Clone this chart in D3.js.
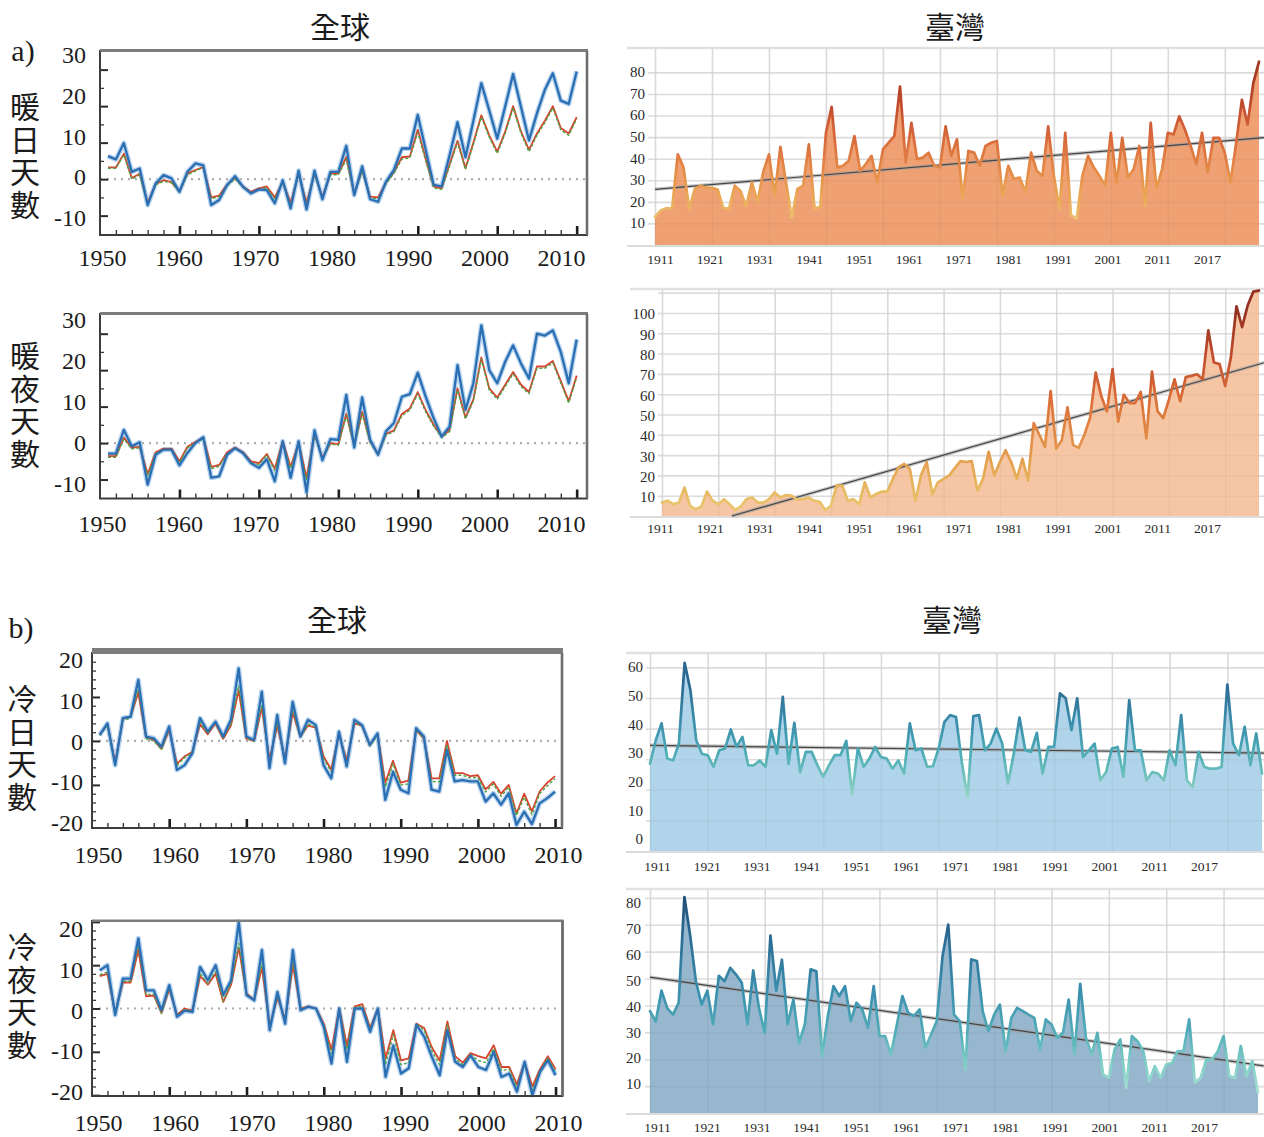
<!DOCTYPE html>
<html>
<head>
<meta charset="utf-8">
<title>暖日、暖夜、冷日、冷夜天數：全球與臺灣</title>
<script src="https://cdn.jsdelivr.net/npm/d3@7/dist/d3.min.js"></script>
<style>
  html, body { margin: 0; padding: 0; background: #fff; }
  svg { display: block; }
</style>
</head>
<body>
<svg id="chart" width="1264" height="1137"></svg>
<script>
// ---------------- categories & tick labels ----------------
const globalYears = d3.range(1951, 2011);          // 1951–2010
const taiwanYears = d3.range(1911, 2018);          // 1911–2017
const globalTickLabels = [1950, 1960, 1970, 1980, 1990, 2000, 2010];
const taiwanTickLabels = ["1911", "1921", "1931", "1941", "1951", "1961", "1971", "1981", "1991", "2001", "2011", "2017"];
const taiwanGridYears = [1911, 1921, 1931, 1941, 1951, 1961, 1971, 1981, 1991, 2001, 2011];

// ---------------- global anomalies (days), 1951–2010 ----------------
const warmDaysBlue = [6.3,5.4,9.9,2,2.9,-7.1,-1.2,1.1,0.2,-3.5, 2,4.3,3.8,-7.1,-5.7,-1.6,0.8,-2.1,-3.9,-2.8,
  -3,-6.6,-0.3,-8,2.3,-8.3,2.3,-5.5,2,2, 9.1,-4.4,3.5,-5.5,-6.2,-0.7,2.5,8.4,8.4,17.6,
  8,-1.6,-2,6.5,15.6,6,16,26.3,18.8,11.1, 19.9,28.8,19.7,10.6,18,24.5,29,21.5,20.6,29.5];
const warmDaysRed = [3.2,3.2,7,0.3,1.5,-6.5,-1.3,-0.3,-0.8,-3.3, 1.5,2.5,3.3,-5,-4.5,-1.5,0.3,-2,-3.5,-2.5,
  -2,-5,-0.8,-6.5,1.5,-6.5,1.5,-5,1.5,1.5, 6,-4,2.5,-4.8,-5,-1,2,6,6.2,13.5,
  5.5,-2,-2.5,4,10.5,3,10,17.5,12,7.5, 13,20,13,8,12.5,16,20,14,12.5,17];
const warmDaysGreen = [3,3,6.6,0,1.2,-7,-1.6,-0.6,-1,-3.6, 1.2,2.2,3.2,-5.4,-4.8,-1.8,0,-2.2,-3.8,-2.8,
  -2.4,-5.4,-1,-7,1.2,-7,1.2,-5.4,1.2,1.2, 5.4,-4.4,2.2,-5.2,-5.4,-1.3,1.6,5.5,5.8,12.8,
  5,-2.4,-2.8,3.6,10,2.6,9.5,17,11.5,7, 12.5,19.5,12.5,7.5,12,15.5,19.5,13.5,12,16.5];

const warmNightsBlue = [-2.9,-2.9,3.6,-0.9,0.2,-11.4,-3.2,-1.8,-1.8,-6.1, -2.7,0,1.6,-9.5,-9.1,-3.2,-1.4,-2.7,-5.5,-6.8,
  -4.4,-10.5,0.5,-9.5,0.5,-13.5,3.5,-4.7,1.1,0.9, 13.2,-1.2,12.5,0.9,-3.2,3.2,5.5,12.7,13.4,19.3,
  12.7,6.8,1.8,4.5,21.4,9.1,16.4,32.3,20,16.4, 22.3,26.8,21.8,17.7,30,29.5,30.9,25,16.4,28.4];
const warmNightsRed = [-3.6,-3.6,1.5,-1.3,-1,-8.5,-2.5,-1.5,-1.5,-5, -1,0.3,1.5,-6.5,-6,-2.5,-1.2,-2.5,-5,-5.5,
  -3,-7,0.5,-6.5,0,-9.5,2.5,-4,0,-0.3, 8,-0.5,8.5,0.5,-3,2.5,3.5,8,9.5,14,
  9,5,1.8,3.5,15,7,12,23.5,15,12.5, 16,19.5,16,14,21,21,22.5,17,11.5,18.5];
const warmNightsGreen = [-3.9,-3.9,1.1,-1.6,-1.3,-9,-2.8,-1.8,-1.8,-5.4, -1.3,0,1.2,-7,-6.4,-2.8,-1.5,-2.8,-5.4,-5.9,
  -3.3,-7.5,0.2,-7,-0.3,-10,2.2,-4.4,-0.3,-0.6, 7.5,-0.8,8,0.2,-3.3,2.2,3.1,7.5,9,13.5,
  8.5,4.6,1.5,3.1,14.5,6.6,11.5,23,14.5,12, 15.5,19,15.5,13.5,20.5,20.5,22,16.5,11,18];

const coldDaysBlue = [1.4,4,-5.5,5.2,5.5,13.9,1,0.6,-1.3,3.3, -6.6,-5.5,-2.8,5.2,2.1,4.4,1,4.8,16.5,1,
  0.2,11.2,-6.2,5.9,-5.1,8.9,1,4.8,3.6,-5.5, -8.5,2.1,-5.8,4.8,3.6,-0.9,1.7,-13.4,-7,-11.1,
  -11.9,2.9,1,-11.1,-11.5,-2,-9.2,-8.9,-9.2,-9.2, -13.8,-11.9,-14.5,-11.9,-19.1,-16.1,-18.9,-14.2,-13,-11.5];
const coldDaysRed = [1.4,3.8,-5,5,5.5,11,0.8,0.3,-1.8,2.5, -5.2,-3.5,-2.5,3.8,1.5,4,0.5,3.5,11.5,0.5,
  0,7.5,-4.2,3.5,-4,6.5,1,3.5,3,-3.5, -6.5,1.5,-4.5,4,3.5,-1,1.5,-9.5,-4.5,-9.5,
  -9,2.5,0.5,-8.5,-8.5,0,-7.3,-7.3,-8,-7.8, -11,-9.3,-12,-10,-16.5,-12,-16,-11.5,-9.5,-8];
const coldDaysGreen = [1.2,3.5,-5.3,4.7,5.2,11.8,0.5,0,-2,2.8, -5.6,-3.8,-2.7,4.2,1.7,4.2,0.7,3.8,12.5,0.6,
  0,8.2,-4.8,4,-4.5,7.2,0.8,3.8,3.2,-4, -7,1.7,-5,4.3,3.4,-1.2,1.3,-10.5,-5.2,-10,
  -9.8,2.6,0.6,-9.2,-9.3,-0.8,-7.8,-7.8,-8.4,-8.3, -11.6,-9.8,-12.6,-10.5,-17,-12.8,-16.8,-12,-10.2,-8.6];

const coldNightsBlue = [8.8,10,-1.5,6.9,6.9,16.2,4.2,4.2,-0.4,5.4, -1.9,-0.5,-0.8,9.6,6.5,10,3.1,6.5,20,3.1,
  1.9,13.5,-5,3.8,-3.5,13.5,-0.4,0.4,0,-4.2, -12.7,0,-12.3,0,0,-5.4,0,-15.8,-8.5,-15,
  -13.8,-3.8,-6.5,-11.2,-15.4,-5,-12.3,-13.5,-10.8,-13.5, -14.2,-10,-15.8,-15,-19.2,-12.3,-20,-14.6,-11.9,-15.4];
const coldNightsRed = [7.5,8,-1,6,6,13.5,2.8,3,-1,4.5, -1.5,0,-0.5,7.5,5.5,8,1.5,5.5,14,3.5,
  2,9.5,-4,2.5,-2.5,10,0,0.5,0,-3.5, -9.5,0,-8.5,0.5,1,-4.5,0,-11.5,-5,-12,
  -11.5,-3.5,-4.5,-9,-12,-3,-11,-12.5,-10.3,-11, -11.5,-8.5,-13.5,-13.5,-17.5,-12.5,-18,-14,-11,-14];
const coldNightsGreen = [7.8,8.4,-1.3,6.3,6.3,14.5,3.2,3.3,-1.2,4.8, -1.7,-0.2,-0.7,8,5.8,8.5,1.8,5.8,15,3.3,
  1.8,10.5,-4.4,2.8,-2.9,11,-0.2,0.4,-0.2,-3.8, -10.5,-0.2,-9.5,0.2,0.6,-4.8,-0.2,-12.8,-6,-13,
  -12.5,-3.6,-5,-9.8,-13,-3.8,-11.6,-13,-10.6,-12, -12.5,-9.2,-14.3,-14,-18.2,-12.8,-18.8,-14.3,-11.4,-14.6];

// ---------------- Taiwan day counts, 1911–2017 ----------------
const twWarmDays = [13,16,17,17,42,36,17,26,27.5,26.5, 26.5,25.7,17,17,27.5,25,18,29,20,34,
  42,23,45.5,29,12.7,26,27.5,46.6,17,17.6, 52,64,36,36.7,39,50.5,34.4,37.5,41.3,29,
  44.3,47.4,50.5,73.4,38.2,56.6,39.8,40.5,42.8,36.7, 36,55,41.3,49,21.4,43.6,42.8,36.7,45.9,47.4,
  48.2,23,36.7,30.6,31.3,24.5,42.8,34.4,32,55, 32,16.8,52,13.8,12.2,32,41.3,36,32,27.5,
  52,28.3,49.7,31.3,35.2,45.9,18.3,56.6,26,35.2, 52,51.2,59.6,53.5,45.9,37.5,52,33.6,49.7,49.7,
  42.8,29,47.4,67.3,55.8,75,85];
const twWarmNights = [6.6,7.5,5.8,6.6,14,5,3.3,4.7,12,7.5, 5.8,8.3,5.8,3,4.7,8.3,9.1,6.6,6.6,8.3,
  11.6,9.1,10.3,10,8,8.3,9.1,7.5,7,3, 5,15,15,7.5,8.3,5.8,16.6,9.1,10.8,12,
  12,18.3,24,25.7,23.3,7.5,20,26.6,10.8,16.6, 18.3,20,23.6,27,26.6,27,12.5,18.3,31.6,20,
  26.6,32.4,26.6,18.3,28.2,17.4,45.7,40,34,61.5, 33.2,37.4,53.5,34.9,33.6,40,48.2,70.6,59,51.5,
  72.3,46.5,59.8,55.6,55.6,61.1,38.2,71.1,51.5,48.2, 57.3,67.3,56.5,68.4,69,69.8,67.3,91.4,75.6,74.8,
  64,78,103.3,93,103.8,110.5,111];
const twColdDays = [28.5,36.2,41.7,30.2,29.6,35.1,61.5,52.5,36.2,31.8, 31.3,27.5,32.9,33.5,39.7,34,37.3,28,28,29.6,
  27.5,39.5,31.8,50.4,28.5,41.9,25.8,32.4,32.4,28, 24.2,28,31.3,31.3,36,18.5,33.5,27.5,30.2,34,
  30.7,30.2,26.9,29.6,25.3,41.7,32.9,33.5,27.5,27.7, 33.5,42.2,44.4,43.8,29.1,17.6,44.1,44.4,32.9,35.1,
  40,35.1,22,31.8,43.6,32.9,32.4,38.6,25.3,34, 34,51.5,49.9,39.5,49.9,30.7,32.9,35.1,23.1,25.8,
  33.5,34,24.2,49.3,32.9,32.9,23.1,25.8,25.3,23.1, 32.9,28,44.4,23.1,20.9,32.4,27.5,26.9,26.9,27.5,
  54.4,35.1,31.3,40.6,28,38.4,25.3];
const twColdNights = [37.9,34,45.5,39,36.6,41,80.3,66,49,40.3, 45.5,33,51,49,54,51.5,48.4,33,53,39,
  29.8,66,45.5,57,33,42.2,26.1,33,53.4,52.7, 21.1,36,47.2,43.5,47.2,34.2,41,38.5,31.7,47.2,
  28.6,28.6,21.8,32.3,43.5,37.3,36,38.5,24.2,29.2, 34.2,58.3,70.1,36.6,34.2,16.2,57.1,56.5,37.9,30.4,
  36.6,40.3,23,35.4,39.1,37.9,36.6,35.4,23.6,34.8, 32.9,28,29.8,42.2,21.8,48,28,21.8,29.8,14.3,
  13.1,23.6,27.4,9.4,28.6,26.7,23,11.9,17.4,13.1, 18,18.6,23,23,34.8,11.3,13.1,19.9,19.9,23,
  28.6,13.7,13.1,24.9,13.7,19.3,7.5];

// linear trend end points [year, days]
const twWarmDaysTrend = [[1911, 25.8], [2017.9, 49.8]];
const twWarmNightsTrend = [[1923.4, 0], [2017.9, 75.5]];
const twColdDaysTrend = [[1911, 34.5], [2017.35, 32]];
const twColdNightsTrend = [[1911, 50.5], [2018, 17.5]];

// ---------------- drawing ----------------
const SERIF = '"Liberation Serif", "Times New Roman", serif';
const CJK = '"Noto Sans CJK TC", "Noto Sans CJK SC", sans-serif';
const plainNumber = d => String(d);   // keeps an ASCII hyphen for negatives
const svg = d3.select("#chart");
const defs = svg.append("defs");

function styleAxis(sel, color, width) {
  sel.select(".domain").remove();
  sel.selectAll("line").attr("stroke", color).attr("stroke-width", width);
  return sel;
}

function drawGlobalPanel(p) {
  const g = svg.append("g");
  const f = p.frame;
  const x = d3.scaleLinear().domain(p.xDomain).range([f.x0, f.x1]);
  const y = d3.scaleLinear().domain(p.yDomain).range([f.y1, f.y0]);
  const xLab = d3.scaleLinear().domain([1950, 2010]).range(p.xLabelRange);
  const yLab = d3.scaleLinear().domain(p.yLabelDomain).range(p.yLabelRange);

  // dotted zero reference
  g.append("line")
    .attr("x1", f.x0).attr("x2", f.x1).attr("y1", y(0)).attr("y2", y(0))
    .attr("stroke", "#adadad").attr("stroke-width", 2.2).attr("stroke-dasharray", "2,5");

  const line = d3.line().x((d, i) => x(globalYears[i])).y(d => y(d));
  g.append("path").datum(p.blue).attr("d", line).attr("fill", "none")
    .attr("stroke", "#b9d4ee").attr("stroke-width", 5).attr("stroke-linejoin", "round");
  g.append("path").datum(p.red).attr("d", line).attr("fill", "none")
    .attr("stroke", "#d8432e").attr("stroke-width", 1.8).attr("stroke-linejoin", "round");
  g.append("path").datum(p.green).attr("d", line).attr("fill", "none")
    .attr("stroke", "#4fa34a").attr("stroke-width", 1.4).attr("stroke-dasharray", "3,2")
    .attr("stroke-linejoin", "round");
  g.append("path").datum(p.blue).attr("d", line).attr("fill", "none")
    .attr("stroke", "#2a6fb3").attr("stroke-width", 2.3).attr("stroke-linejoin", "round");

  // inward ticks
  styleAxis(g.append("g").attr("transform", `translate(${f.x0},0)`)
    .call(d3.axisLeft(y).tickValues(p.yMajor).tickSize(-8).tickFormat("")), "#2a2a2a", 2);
  styleAxis(g.append("g").attr("transform", `translate(${f.x0},0)`)
    .call(d3.axisLeft(y).tickValues(p.yMinor).tickSize(-4).tickFormat("")), "#3a3a3a", 1.3);
  styleAxis(g.append("g").attr("transform", `translate(0,${f.y1})`)
    .call(d3.axisBottom(x).tickValues([1960, 1970, 1980, 1990, 2000, 2010]).tickSize(-9).tickFormat("")), "#1e1e1e", 2.6);
  styleAxis(g.append("g").attr("transform", `translate(0,${f.y1})`)
    .call(d3.axisBottom(x).tickValues(d3.range(1952, 2011, 2).filter(v => v % 10 !== 0)).tickSize(-5).tickFormat("")), "#3a3a3a", 1.4);

  // frame
  g.append("rect").attr("x", f.x0).attr("y", f.y0)
    .attr("width", f.x1 - f.x0).attr("height", f.y1 - f.y0)
    .attr("fill", "none").attr("stroke", "#3d3d3d").attr("stroke-width", 2);
  g.append("line").attr("x1", f.x0).attr("x2", f.x1 + 1)
    .attr("y1", f.y0 - p.topWidth / 2 + 1).attr("y2", f.y0 - p.topWidth / 2 + 1)
    .attr("stroke", "#7c7c7c").attr("stroke-width", p.topWidth);
  g.append("line").attr("x1", f.x1).attr("x2", f.x1)
    .attr("y1", f.y0).attr("y2", f.y1)
    .attr("stroke", "#6e6e6e").attr("stroke-width", 2.6);

  // tick labels
  const yl = g.append("g").attr("transform", `translate(${p.yLabelRight},0)`)
    .call(d3.axisLeft(yLab).tickValues(p.yLabelValues).tickFormat(plainNumber).tickSize(0).tickPadding(0));
  yl.select(".domain").remove();
  yl.attr("font-family", SERIF).attr("font-size", 24);
  yl.selectAll("text").attr("fill", "#1b1b1b");

  const xl = g.append("g").attr("transform", `translate(0,${p.xLabelY - 9})`)
    .call(d3.axisBottom(xLab).tickValues(globalTickLabels).tickFormat(plainNumber).tickSize(0).tickPadding(0));
  xl.select(".domain").remove();
  xl.attr("font-family", SERIF).attr("font-size", 24);
  xl.selectAll("text").attr("fill", "#1b1b1b");

  // vertical axis title, written top to bottom
  g.append("text")
    .attr("x", p.titleX).attr("y", p.titleTop)
    .style("writing-mode", "vertical-rl")
    .attr("letter-spacing", 2.5)
    .attr("font-family", CJK).attr("font-size", 30).attr("fill", "#1b1b1b")
    .text(p.title);
}

function drawTaiwanPanel(p) {
  const g = svg.append("g");
  const right = 1264;
  const x = d3.scaleLinear().domain([1911, 2017]).range([p.x0, p.x1]);
  const y = d3.scaleLinear().domain([0, p.yTop]).range([p.yBottom, p.yTopPx]);
  const xLab = d3.scalePoint().domain(taiwanTickLabels).range(p.xLabelRange);
  const yLab = d3.scaleLinear().domain(p.yLabelDomain).range(p.yLabelRange);

  // grid
  styleAxis(g.append("g").attr("transform", `translate(${p.gridLeft},0)`)
    .call(d3.axisLeft(y).tickValues(p.grid).tickSize(-(right - p.gridLeft)).tickFormat("")), "#e4e4e4", 1.6);
  styleAxis(g.append("g").attr("transform", `translate(0,${p.yBottom})`)
    .call(d3.axisBottom(x).tickValues(taiwanGridYears).tickSize(-(p.yBottom - p.yTopPx)).tickFormat("")), "#e2e2e2", 1.6);
  g.append("line").attr("x1", p.borderLeft).attr("x2", right)
    .attr("y1", p.yTopPx).attr("y2", p.yTopPx)
    .attr("stroke", "#e1e1e1").attr("stroke-width", 2.4);

  // filled area
  const area = d3.area().x((d, i) => x(taiwanYears[i])).y0(y(0)).y1(d => y(d));
  g.append("path").datum(p.values).attr("d", area).attr("fill", p.fill);

  // faint grid showing through the fill
  styleAxis(g.append("g").attr("transform", `translate(0,${p.yBottom})`)
    .call(d3.axisBottom(x).tickValues(taiwanGridYears).tickSize(-(p.yBottom - p.yTopPx)).tickFormat("")), "rgba(0,0,0,0.035)", 1.6);
  styleAxis(g.append("g").attr("transform", `translate(${p.gridLeft},0)`)
    .call(d3.axisLeft(y).tickValues(p.grid).tickSize(-(right - p.gridLeft)).tickFormat("")), "rgba(0,0,0,0.03)", 1.6);

  // baseline
  g.append("line").attr("x1", p.borderLeft).attr("x2", right)
    .attr("y1", p.yBottom + 1).attr("y2", p.yBottom + 1)
    .attr("stroke", "#dcdcdc").attr("stroke-width", 2);

  // trend line
  const trend = d3.line().x(d => x(d[0])).y(d => y(d[1]));
  g.append("path").datum(p.trend).attr("d", trend).attr("fill", "none")
    .attr("stroke", "#9c9c9c").attr("stroke-opacity", 0.55).attr("stroke-width", 3.6);
  g.append("path").datum(p.trend).attr("d", trend).attr("fill", "none")
    .attr("stroke", "#454545").attr("stroke-width", 1.2);

  // value-coloured line
  const grad = defs.append("linearGradient").attr("id", p.id + "-grad")
    .attr("gradientUnits", "userSpaceOnUse")
    .attr("x1", 0).attr("x2", 0).attr("y1", y(0)).attr("y2", y(p.yTop));
  grad.selectAll("stop").data(p.stops).join("stop")
    .attr("offset", d => d[0] / p.yTop).attr("stop-color", d => d[1]);
  const line = d3.line().x((d, i) => x(taiwanYears[i])).y(d => y(d));
  g.append("path").datum(p.values).attr("d", line).attr("fill", "none")
    .attr("stroke", `url(#${p.id}-grad)`).attr("stroke-width", 2.7)
    .attr("stroke-linejoin", "round").attr("stroke-linecap", "round");

  // labels
  const yl = g.append("g").attr("transform", `translate(${p.yLabelRight},0)`)
    .call(d3.axisLeft(yLab).tickValues(p.yLabelValues).tickFormat(plainNumber).tickSize(0).tickPadding(0));
  yl.select(".domain").remove();
  yl.attr("font-family", SERIF).attr("font-size", 15);
  yl.selectAll("text").attr("fill", "#2a2a2a");

  const xl = g.append("g").attr("transform", `translate(0,${p.xLabelY - 5})`)
    .call(d3.axisBottom(xLab).tickSize(0).tickPadding(0));
  xl.select(".domain").remove();
  xl.attr("font-family", SERIF).attr("font-size", 13.5);
  xl.selectAll("text").attr("fill", "#2a2a2a");
}

// ---- global panels ----
drawGlobalPanel({
  blue: warmDaysBlue, red: warmDaysRed, green: warmDaysGreen,
  frame: { x0: 100, x1: 587, y0: 51, y1: 235 },
  xDomain: [1950, 2011.3], yDomain: [-15.3, 35.1], topWidth: 3,
  yMajor: [-10, 0, 10, 20, 30], yMinor: [-5, 5, 15, 25],
  yLabelValues: [-10, 0, 10, 20, 30], yLabelDomain: [-10, 30], yLabelRange: [218, 55], yLabelRight: 86,
  xLabelRange: [102, 561], xLabelY: 258,
  title: "暖日天數", titleX: 25, titleTop: 92
});
drawGlobalPanel({
  blue: warmNightsBlue, red: warmNightsRed, green: warmNightsGreen,
  frame: { x0: 100, x1: 587, y0: 314, y1: 498.5 },
  xDomain: [1950, 2011.3], yDomain: [-15.2, 35.4], topWidth: 3,
  yMajor: [-10, 0, 10, 20, 30], yMinor: [-5, 5, 15, 25],
  yLabelValues: [-10, 0, 10, 20, 30], yLabelDomain: [-10, 30], yLabelRange: [484, 320], yLabelRight: 86,
  xLabelRange: [102, 561], xLabelY: 524,
  title: "暖夜天數", titleX: 25, titleTop: 341
});
drawGlobalPanel({
  blue: coldDaysBlue, red: coldDaysRed, green: coldDaysGreen,
  frame: { x0: 92, x1: 562, y0: 653, y1: 828 },
  xDomain: [1950, 2010.9], yDomain: [-19.8, 20], topWidth: 6,
  yMajor: [-10, 0, 10], yMinor: d3.range(-18, 20, 2).filter(v => v % 10 !== 0),
  yLabelValues: [-20, -10, 0, 10, 20], yLabelDomain: [-20, 20], yLabelRange: [823, 660], yLabelRight: 83,
  xLabelRange: [98, 558], xLabelY: 855,
  title: "冷日天數", titleX: 22, titleTop: 684
});
drawGlobalPanel({
  blue: coldNightsBlue, red: coldNightsRed, green: coldNightsGreen,
  frame: { x0: 92, x1: 562.5, y0: 921, y1: 1096 },
  xDomain: [1950, 2010.9], yDomain: [-20.2, 20.2], topWidth: 2.5,
  yMajor: [-20, -10, 0, 10, 20], yMinor: d3.range(-18, 20, 2).filter(v => v % 10 !== 0),
  yLabelValues: [-20, -10, 0, 10, 20], yLabelDomain: [-20, 20], yLabelRange: [1092, 929], yLabelRight: 83,
  xLabelRange: [98, 558], xLabelY: 1123,
  title: "冷夜天數", titleX: 22, titleTop: 932
});

// ---- Taiwan panels ----
drawTaiwanPanel({
  id: "tw-warm-days", values: twWarmDays, trend: twWarmDaysTrend,
  x0: 655, x1: 1259, yBottom: 245, yTopPx: 48, yTop: 91.3,
  grid: [10, 20, 30, 40, 50, 60, 70, 80], gridLeft: 648, borderLeft: 627,
  yLabelValues: [10, 20, 30, 40, 50, 60, 70, 80], yLabelDomain: [10, 80], yLabelRange: [223, 72], yLabelRight: 645,
  xLabelRange: [660, 1207], xLabelY: 259,
  fill: "#efa173",
  stops: [[10, "#ebc676"], [22, "#eaa955"], [35, "#e48846"], [50, "#d8683a"], [65, "#c14b2e"], [80, "#a43924"]]
});
drawTaiwanPanel({
  id: "tw-warm-nights", values: twWarmNights, trend: twWarmNightsTrend,
  x0: 662, x1: 1259, yBottom: 516, yTopPx: 289, yTop: 111.8,
  grid: [10, 20, 30, 40, 50, 60, 70, 80, 90, 100, 110], gridLeft: 658, borderLeft: 630,
  yLabelValues: [10, 20, 30, 40, 50, 60, 70, 80, 90, 100], yLabelDomain: [10, 100], yLabelRange: [497, 314], yLabelRight: 655,
  xLabelRange: [660, 1207], xLabelY: 528,
  fill: "#f6c6a4",
  stops: [[5, "#e9c46c"], [20, "#e6ad56"], [40, "#e28a45"], [60, "#d96a36"], [80, "#c04a2c"], [100, "#933021"]]
});
drawTaiwanPanel({
  id: "tw-cold-days", values: twColdDays, trend: twColdDaysTrend,
  x0: 650, x1: 1262, yBottom: 851, yTopPx: 653, yTop: 64.7,
  grid: [10, 20, 30, 40, 50, 60], gridLeft: 646, borderLeft: 626,
  yLabelValues: [0, 10, 20, 30, 40, 50, 60], yLabelDomain: [0, 60], yLabelRange: [839, 667], yLabelRight: 643,
  xLabelRange: [657, 1204], xLabelY: 866,
  fill: "#b0d4e9",
  stops: [[15, "#a9dccb"], [25, "#6cc0bc"], [33, "#49a8b4"], [42, "#3b8eab"], [55, "#2b6891"]]
});
drawTaiwanPanel({
  id: "tw-cold-nights", values: twColdNights, trend: twColdNightsTrend,
  x0: 650, x1: 1258, yBottom: 1113, yTopPx: 889, yTop: 83.3,
  grid: [10, 20, 30, 40, 50, 60, 70, 80], gridLeft: 645, borderLeft: 626,
  yLabelValues: [10, 20, 30, 40, 50, 60, 70, 80], yLabelDomain: [10, 80], yLabelRange: [1084, 903], yLabelRight: 641,
  xLabelRange: [657, 1204], xLabelY: 1127,
  fill: "#97b7cf",
  stops: [[8, "#a8e0d2"], [18, "#7fcfc6"], [30, "#52adb8"], [45, "#3a8fae"], [65, "#2c6c94"], [80, "#1f4f78"]]
});

// ---- headings ----
const headings = [
  { text: "全球", x: 340, y: 25 }, { text: "臺灣", x: 955, y: 25 },
  { text: "全球", x: 337, y: 618 }, { text: "臺灣", x: 952, y: 618 }
];
svg.append("g").selectAll("text").data(headings).join("text")
  .attr("x", d => d.x).attr("y", d => d.y)
  .attr("text-anchor", "middle").attr("dominant-baseline", "central")
  .attr("font-family", CJK).attr("font-size", 30).attr("fill", "#1b1b1b")
  .text(d => d.text);

const partLabels = [{ text: "a)", x: 23, y: 50 }, { text: "b)", x: 21, y: 627 }];
svg.append("g").selectAll("text").data(partLabels).join("text")
  .attr("x", d => d.x).attr("y", d => d.y)
  .attr("text-anchor", "middle").attr("dominant-baseline", "central")
  .attr("font-family", SERIF).attr("font-size", 30).attr("fill", "#1b1b1b")
  .text(d => d.text);
</script>
</body>
</html>
